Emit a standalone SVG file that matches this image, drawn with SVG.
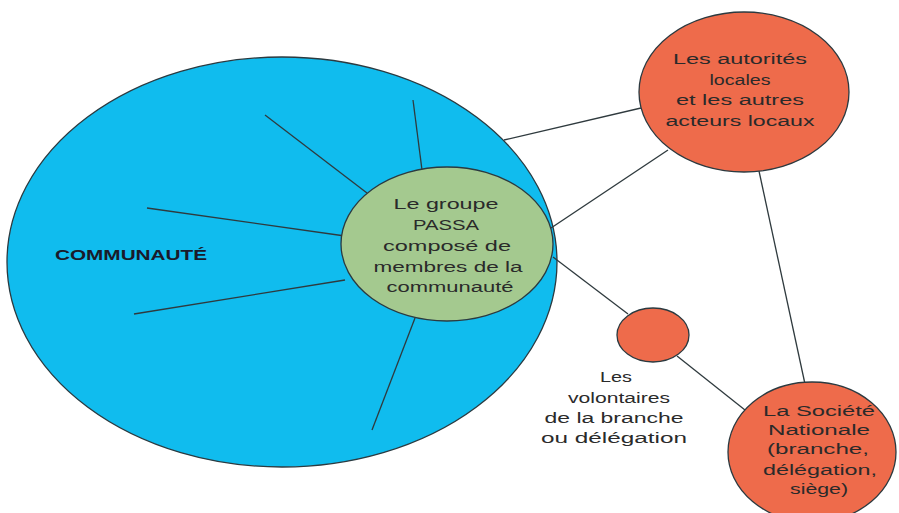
<svg xmlns="http://www.w3.org/2000/svg" width="899" height="513" viewBox="0 0 899 513">
<style>
.node{stroke:#2b3a40;stroke-width:1.3}
.blue{fill:#10bcee}
.green{fill:#a4c98f}
.orange{fill:#ee6b4b}
.conn line{stroke:#2f3a3e;stroke-width:1.3}
text{font-family:"Liberation Sans",Arial,sans-serif;font-size:15.5px;fill:#2a2a2a;text-anchor:middle}
.bold{font-weight:bold;font-size:14px;fill:#1a1a2a;text-anchor:start}
</style>
<rect width="899" height="513" fill="#ffffff"/>
<g id="communaute">
<ellipse class="node blue" cx="282" cy="262" rx="275" ry="205"/>
<text class="bold" x="55" y="260" textLength="152" lengthAdjust="spacingAndGlyphs">COMMUNAUTÉ</text>
</g>
<g id="connectors" class="conn">
<line x1="265" y1="115" x2="367" y2="193"/>
<line x1="413" y1="100" x2="422" y2="170"/>
<line x1="147" y1="208" x2="345" y2="236"/>
<line x1="134" y1="314" x2="345" y2="280"/>
<line x1="372" y1="430" x2="415" y2="318"/>
<line x1="504" y1="140" x2="641" y2="108"/>
<line x1="551" y1="228" x2="668" y2="150"/>
<line x1="759" y1="171" x2="805" y2="384"/>
<line x1="553" y1="257" x2="628" y2="314"/>
<line x1="677" y1="356" x2="745" y2="410"/>
</g>
<g id="passa">
<ellipse class="node green" cx="447" cy="244" rx="106" ry="77"/>
<text x="446" y="209" textLength="105" lengthAdjust="spacingAndGlyphs">Le groupe</text>
<text x="446" y="230" textLength="66" lengthAdjust="spacingAndGlyphs">PASSA</text>
<text x="447" y="251" textLength="128" lengthAdjust="spacingAndGlyphs">composé de</text>
<text x="448" y="272" textLength="149" lengthAdjust="spacingAndGlyphs">membres de la</text>
<text x="450" y="292" textLength="127" lengthAdjust="spacingAndGlyphs">communauté</text>
</g>
<g id="autorites">
<ellipse class="node orange" cx="744" cy="92" rx="105" ry="80"/>
<text x="740" y="64" textLength="134" lengthAdjust="spacingAndGlyphs">Les autorités</text>
<text x="740" y="85" textLength="61" lengthAdjust="spacingAndGlyphs">locales</text>
<text x="740" y="105" textLength="128" lengthAdjust="spacingAndGlyphs">et les autres</text>
<text x="740" y="126" textLength="149" lengthAdjust="spacingAndGlyphs">acteurs locaux</text>
</g>
<g id="volontaires">
<ellipse class="node orange" cx="653" cy="335" rx="36" ry="27"/>
<text x="616" y="382" textLength="32" lengthAdjust="spacingAndGlyphs">Les</text>
<text x="619" y="403" textLength="102" lengthAdjust="spacingAndGlyphs">volontaires</text>
<text x="614" y="423" textLength="139" lengthAdjust="spacingAndGlyphs">de la branche</text>
<text x="614" y="443" textLength="146" lengthAdjust="spacingAndGlyphs">ou délégation</text>
</g>
<g id="societe">
<ellipse class="node orange" cx="812" cy="452" rx="84" ry="70"/>
<text x="819" y="416" textLength="112" lengthAdjust="spacingAndGlyphs">La Société</text>
<text x="819" y="435" textLength="102" lengthAdjust="spacingAndGlyphs">Nationale</text>
<text x="818" y="454" textLength="102" lengthAdjust="spacingAndGlyphs">(branche,</text>
<text x="820" y="475" textLength="114" lengthAdjust="spacingAndGlyphs">délégation,</text>
<text x="819" y="494" textLength="58" lengthAdjust="spacingAndGlyphs">siège)</text>
</g>
</svg>
